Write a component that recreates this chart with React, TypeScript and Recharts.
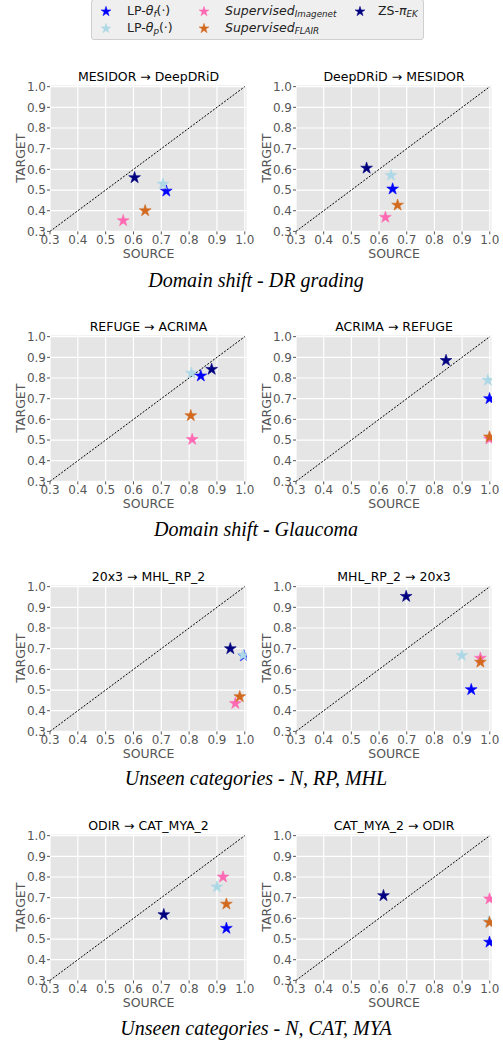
import React from 'react';
import { ScatterChart, Scatter, XAxis, YAxis, CartesianGrid, ReferenceLine, Label } from 'recharts';

// ---- data ----
const panelTitles = [
  'MESIDOR → DeepDRiD',
  'DeepDRiD → MESIDOR',
  'REFUGE → ACRIMA',
  'ACRIMA → REFUGE',
  '20x3 → MHL_RP_2',
  'MHL_RP_2 → 20x3',
  'ODIR → CAT_MYA_2',
  'CAT_MYA_2 → ODIR',
];
const captions = [
  'Domain shift - DR grading',
  'Domain shift - Glaucoma',
  'Unseen categories - N, RP, MHL',
  'Unseen categories - N, CAT, MYA',
];
const axisTicks = [0.3, 0.4, 0.5, 0.6, 0.7, 0.8, 0.9, 1.0];

const lpFSource = [0.718, 0.649, 0.842, 0.999, 0.997, 0.933, 0.934, 0.999];
const lpFTarget = [0.495, 0.505, 0.81, 0.70, 0.665, 0.502, 0.552, 0.485];
const lpPSource = [0.706, 0.643, 0.808, 0.993, 0.995, 0.899, 0.90, 0.997];
const lpPTarget = [0.529, 0.571, 0.823, 0.789, 0.668, 0.667, 0.752, 0.585];
const supImSource = [0.563, 0.623, 0.811, 0.999, 0.966, 0.966, 0.922, 0.999];
const supImTarget = [0.352, 0.368, 0.503, 0.505, 0.435, 0.654, 0.80, 0.694];
const supFlSource = [0.642, 0.667, 0.806, 0.999, 0.982, 0.966, 0.934, 0.999];
const supFlTarget = [0.40, 0.427, 0.618, 0.515, 0.468, 0.635, 0.669, 0.58];
const zsSource = [0.604, 0.555, 0.881, 0.842, 0.948, 0.698, 0.709, 0.616];
const zsTarget = [0.56, 0.606, 0.842, 0.885, 0.70, 0.953, 0.618, 0.71];

const seriesColors = ['#0000ff', '#add8e6', '#ff69b4', '#d2691e', '#000080'];
const seriesSources = [lpFSource, lpPSource, supImSource, supFlSource, zsSource];
const seriesTargets = [lpFTarget, lpPTarget, supImTarget, supFlTarget, zsTarget];

// ---- helpers ----
function starPath(cx: number, cy: number, r: number) {
  const ri = r * 0.382;
  let d = '';
  for (let k = 0; k < 10; k++) {
    const rad = k % 2 === 0 ? r : ri;
    const a = -Math.PI / 2 + (k * Math.PI) / 5;
    const px = cx + rad * Math.cos(a);
    const py = cy + rad * Math.sin(a);
    d += (k === 0 ? 'M' : 'L') + px.toFixed(2) + ',' + py.toFixed(2);
  }
  return d + 'Z';
}

const makeStar = (color: string, r: number) => (props: any) => {
  const { cx, cy } = props;
  if (cx == null || cy == null) return <g />;
  return <path d={starPath(cx, cy, r)} fill={color} stroke={color} strokeWidth={0.6} />;
};

const FONT = '"DejaVu Sans", sans-serif';

function Panel({ idx, left, plotTop, yAxisWidth, rightMargin, targetX }: any) {
  const chartW = 250;
  const marginTop = 10;
  const plotH = 146.4;
  const xAxisH = 40;
  const chartH = marginTop + plotH + xAxisH;
  const plotW = chartW - yAxisWidth - rightMargin;
  return (
    <>
      <div
        style={{
          position: 'absolute',
          left: left + yAxisWidth,
          width: plotW,
          top: plotTop - 15,
          lineHeight: '14px',
          fontSize: 12.5,
          textAlign: 'center',
          color: '#000',
          fontFamily: FONT,
          whiteSpace: 'nowrap',
        }}
      >
        {panelTitles[idx]}
      </div>
      <div style={{ position: 'absolute', left, top: plotTop - marginTop }}>
        <ScatterChart
          width={chartW}
          height={chartH}
          margin={{ top: marginTop, right: rightMargin, bottom: 0, left: 0 }}
        >
          <CartesianGrid fill="#e5e5e5" fillOpacity={1} stroke="#ffffff" strokeWidth={1.2} />
          <XAxis
            type="number"
            dataKey="x"
            domain={[0.3, 1.008]}
            ticks={axisTicks}
            interval={0}
            allowDataOverflow
            height={xAxisH}
            tickSize={3}
            tickMargin={1}
            axisLine={false}
            tickLine={{ stroke: '#555' }}
            tick={{ fill: '#555', fontSize: 12, fontFamily: FONT }}
            tickFormatter={(v: number) => v.toFixed(1)}
          >
            <Label
              content={(p: any) => {
                const vb = p.viewBox || {};
                return (
                  <text
                    x={vb.x + vb.width / 2}
                    y={vb.y + 22}
                    textAnchor="middle"
                    dominantBaseline="central"
                    fill="#555"
                    fontSize={12.5}
                    fontFamily={FONT}
                  >
                    SOURCE
                  </text>
                );
              }}
            />
          </XAxis>
          <YAxis
            type="number"
            dataKey="y"
            domain={[0.3, 1.008]}
            ticks={axisTicks}
            interval={0}
            allowDataOverflow
            width={yAxisWidth}
            tickSize={3}
            tickMargin={1}
            axisLine={false}
            tickLine={{ stroke: '#555' }}
            tick={{ fill: '#555', fontSize: 12, fontFamily: FONT }}
            tickFormatter={(v: number) => v.toFixed(1)}
          >
            <Label
              content={(p: any) => {
                const vb = p.viewBox || {};
                const cy = vb.y + vb.height / 2;
                return (
                  <text
                    x={targetX}
                    y={cy}
                    transform={`rotate(-90, ${targetX}, ${cy})`}
                    textAnchor="middle"
                    dominantBaseline="central"
                    fill="#555"
                    fontSize={12.5}
                    fontFamily={FONT}
                  >
                    TARGET
                  </text>
                );
              }}
            />
          </YAxis>
          <ReferenceLine
            segment={[
              { x: 0.3, y: 0.3 },
              { x: 1.0, y: 1.0 },
            ]}
            stroke="#000"
            strokeWidth={1}
            strokeDasharray="2 1.5"
          />
          {seriesColors.map((c, s) => (
            <Scatter
              key={s}
              data={seriesSources[s].map((_, i) => ({ x: seriesSources[s][i], y: seriesTargets[s][i] })).filter((_, i) => i === idx)}
              fill={c}
              shape={makeStar(c, 6.2)}
              isAnimationActive={false}
            />
          ))}
        </ScatterChart>
      </div>
    </>
  );
}

function LegendStar({ color }: { color: string }) {
  return (
    <svg width={12} height={12} style={{ position: 'absolute', left: -6, top: -6 }}>
      <path d={starPath(6, 6.5, 5.2)} fill={color} stroke={color} strokeWidth={0.5} />
    </svg>
  );
}

function LegendItem({ x, y, tx, color, children }: any) {
  return (
    <>
      <div style={{ position: 'absolute', left: x, top: y }}>
        <LegendStar color={color} />
      </div>
      <div
        style={{
          position: 'absolute',
          left: tx,
          top: y - 8,
          lineHeight: '16px',
          fontSize: 12.5,
          fontFamily: FONT,
          color: '#222',
          whiteSpace: 'nowrap',
        }}
      >
        {children}
      </div>
    </>
  );
}

const subStyle: React.CSSProperties = { fontSize: '0.7em', verticalAlign: '-0.25em', fontStyle: 'italic' };

export default function App() {
  const plotTops = [84.5, 334.5, 584.5, 834];
  const captionCenters = [280, 529, 778, 1028];
  return (
    <div style={{ position: 'absolute', left: 0, top: 0, width: 503, height: 1040, background: '#fff', overflow: 'hidden' }}>
      <style>{'.recharts-surface{overflow:visible}'}</style>
      {/* legend */}
      <div
        style={{
          position: 'absolute',
          left: 91,
          top: -1,
          width: 333,
          height: 41,
          background: '#efefef',
          border: '1px solid #cfcfcf',
          borderRadius: 3,
          boxSizing: 'border-box',
        }}
      />
      <LegendItem x={106} y={11} tx={127} color={seriesColors[0]}>
        LP-<i>θ</i><span style={subStyle}>f</span>(·)
      </LegendItem>
      <LegendItem x={106} y={28} tx={127} color={seriesColors[1]}>
        LP-<i>θ</i><span style={subStyle}>p</span>(·)
      </LegendItem>
      <LegendItem x={204} y={11} tx={225} color={seriesColors[2]}>
        <i>Supervised</i><span style={subStyle}>Imagenet</span>
      </LegendItem>
      <LegendItem x={204} y={28} tx={225} color={seriesColors[3]}>
        <i>Supervised</i><span style={subStyle}>FLAIR</span>
      </LegendItem>
      <LegendItem x={360} y={11} tx={378} color={seriesColors[4]}>
        ZS-<i>π</i><span style={subStyle}>EK</span>
      </LegendItem>

      {panelTitles.map((_, idx) => {
        const row = Math.floor(idx / 2);
        const isRight = idx % 2 === 1;
        return (
          <Panel
            key={idx}
            idx={idx}
            left={isRight ? 250 : 0}
            plotTop={plotTops[row]}
            yAxisWidth={isRight ? 46 : 50}
            rightMargin={isRight ? 8 : 3}
            targetX={isRight ? 16.7 : 20.7}
          />
        );
      })}

      {captions.map((c, r) => (
        <div
          key={r}
          style={{
            position: 'absolute',
            left: 6,
            width: 500,
            top: captionCenters[r] - 12,
            lineHeight: '24px',
            textAlign: 'center',
            fontFamily: '"Liberation Serif", "Times New Roman", serif',
            fontStyle: 'italic',
            fontSize: 20,
            color: '#000',
          }}
        >
          {c}
        </div>
      ))}
    </div>
  );
}
